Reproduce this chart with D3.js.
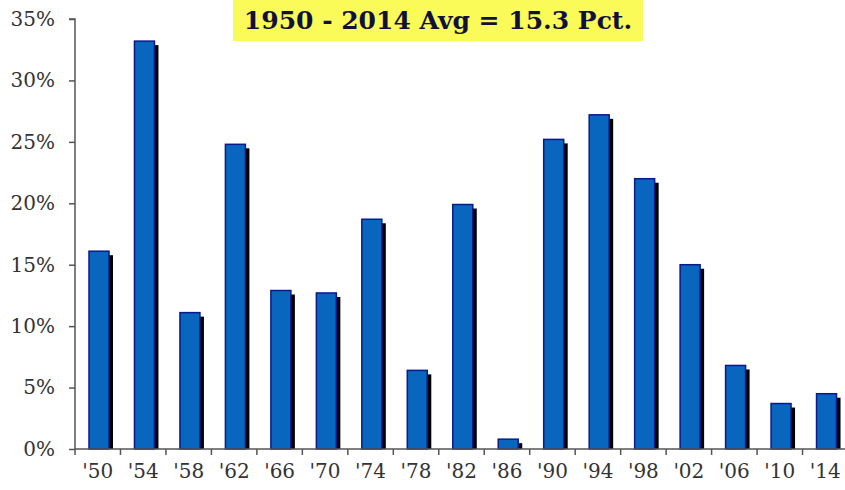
<!DOCTYPE html>
<html>
<head>
<meta charset="utf-8">
<script src="https://cdn.jsdelivr.net/npm/d3@7"></script>
<style>
  body { margin: 0; background: #fff; }
  svg text { font-family: "DejaVu Serif", "Liberation Serif", serif; }
</style>
</head>
<body>
<svg id="chart" width="845" height="490"></svg>
<script>
// midterm years and the percent values
const years = ["'50", "'54", "'58", "'62", "'66", "'70", "'74", "'78", "'82", "'86", "'90", "'94", "'98", "'02", "'06", "'10", "'14"];
const gains = [16.1, 33.2, 11.1, 24.8, 12.9, 12.7, 18.7, 6.4, 19.9, 0.8, 25.2, 27.2, 22.0, 15.0, 6.8, 3.7, 4.5];
const yTicks = [0, 5, 10, 15, 20, 25, 30, 35];
const title = "1950 - 2014 Avg = 15.3 Pct.";

const svg = d3.select("#chart");

// plot area
const plotLeft = 75, plotRight = 848, plotTop = 19, plotBottom = 449;

let x = d3.scaleBand().domain(years).range([plotLeft, plotRight]).paddingInner(0).paddingOuter(0);
let y = d3.scaleLinear().domain([0, 35]).range([plotBottom, plotTop]);

// bars: black shadow first, then the blue bar
const bw = 20, bOff = 14, sh = 4;
const bars = svg.append("g");
bars.selectAll("rect.shadow")
    .data(gains)
    .join("rect")
    .attr("class", "shadow")
    .attr("x", (d, i) => x(years[i]) + bOff + sh)
    .attr("y", d => Math.min(y(d) + sh, plotBottom))
    .attr("width", bw)
    .attr("height", d => Math.max(plotBottom - y(d) - sh, 0))
    .attr("fill", "#000");

bars.selectAll("rect.bar")
    .data(gains)
    .join("rect")
    .attr("class", "bar")
    .attr("x", (d, i) => x(years[i]) + bOff)
    .attr("y", d => y(d))
    .attr("width", bw)
    .attr("height", d => plotBottom - y(d))
    .attr("fill", "#0866BE")
    .attr("stroke", "#0A1A8C")
    .attr("stroke-width", 1.5);

// y axis
const yAxis = svg.append("g")
    .attr("transform", `translate(${plotLeft},0)`)
    .call(d3.axisLeft(y).tickValues(yTicks).tickSize(6).tickFormat(d => d + "%"));
yAxis.select(".domain").attr("stroke", "#555").attr("stroke-width", 1.5).attr("d", `M-6,${plotTop}H0V${plotBottom}`);
yAxis.selectAll(".tick line").attr("stroke", "#555").attr("stroke-width", 1.5);
yAxis.selectAll(".tick text")
    .attr("x", -20)
    .attr("fill", "#333")
    .style("font-size", "20px");

// x axis: tick marks sit on band edges, labels centred in bands
const xAxis = svg.append("g").attr("transform", `translate(0,${plotBottom})`);
xAxis.append("line")
    .attr("x1", plotLeft).attr("x2", plotRight)
    .attr("stroke", "#555").attr("stroke-width", 1.5);
xAxis.selectAll("line.tick")
    .data(years)
    .join("line")
    .attr("class", "tick")
    .attr("x1", d => x(d)).attr("x2", d => x(d))
    .attr("y1", 0).attr("y2", 6)
    .attr("stroke", "#555").attr("stroke-width", 1.5);
xAxis.selectAll("text")
    .data(years)
    .join("text")
    .attr("x", d => x(d) + x.bandwidth() / 2)
    .attr("y", 29)
    .attr("text-anchor", "middle")
    .attr("fill", "#333")
    .style("font-size", "20px")
    .text(d => d);

// title in yellow box
svg.append("rect")
    .attr("x", 233).attr("y", 0)
    .attr("width", 410).attr("height", 41)
    .attr("fill", "#FAFA58");
svg.append("text")
    .attr("x", 438).attr("y", 29)
    .attr("text-anchor", "middle")
    .attr("fill", "#10103A")
    .style("font-size", "25px")
    .style("font-weight", "bold")
    .text(title);
</script>
</body>
</html>
